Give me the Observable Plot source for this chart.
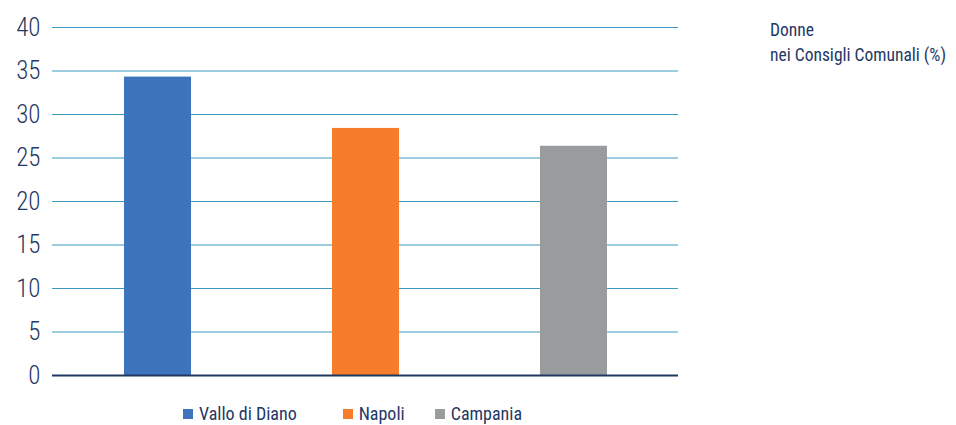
<!DOCTYPE html>
<html>
<head>
<meta charset="utf-8">
<script src="https://cdn.jsdelivr.net/npm/d3@7"></script>
<script src="https://cdn.jsdelivr.net/npm/@observablehq/plot@0.6"></script>
<style>
  html, body { margin: 0; padding: 0; background: #fff; }
  body { width: 956px; height: 425px; position: relative; overflow: hidden;
         font-family: "Roboto Condensed", "DejaVu Sans Condensed", "DejaVu Sans", sans-serif; font-stretch: condensed; color: #1f3864; }
  #chart { position: absolute; left: 0; top: 0; }
  #title { position: absolute; left: 770px; top: 18px; font-size: 17.5px; line-height: 25px; color: #1f3864; white-space: nowrap; }
  #legend { position: absolute; left: 183px; top: 403px; display: flex; font-size: 18px; color: #1f3864; white-space: nowrap; }
  .item { display: flex; align-items: center; gap: 6px; }
  .sw { width: 10px; height: 10px; display: inline-block; }
</style>
</head>
<body>
<div id="chart"></div>
<div id="title">Donne<br>nei Consigli Comunali (%)</div>
<div id="legend"></div>
<script>
const categories = ["Vallo di Diano", "Napoli", "Campania"];
const values = [34.3, 28.4, 26.35];
const colors = ["#3e74bb", "#f57d2c", "#999c9c"];
const yTicks = [0, 5, 10, 15, 20, 25, 30, 35, 40];

const data = categories.map((c, i) => ({category: c, value: values[i]}));

const plot = Plot.plot({
  width: 700,
  height: 395,
  marginLeft: 52,
  marginRight: 22,
  marginTop: 27,
  marginBottom: 20,
  style: {fontFamily: '"Roboto Condensed", "DejaVu Sans Condensed", "DejaVu Sans", sans-serif', fontStretch: "condensed", color: "#1f3864", background: "transparent", overflow: "visible"},
  x: {domain: categories, paddingInner: 0.68, paddingOuter: 0.34, axis: null},
  y: {domain: [0, 40], ticks: yTicks, label: null},
  color: {domain: categories, range: colors},
  marks: [
    Plot.ruleY(yTicks.filter(d => d > 0), {stroke: "#3d97bf", strokeWidth: 1.2}),
    Plot.barY(data, {x: "category", y: "value", fill: "category"}),
    Plot.ruleY([0], {stroke: "#1f3864", strokeWidth: 2.2}),
    Plot.axisY({ticks: yTicks, tickSize: 0, tickPadding: 12, fontSize: 25, fontWeight: 300, label: null, fill: "#1f3864"})
  ]
});
document.getElementById("chart").appendChild(plot);

const legend = document.getElementById("legend");
const legendGaps = [46, 30, 0];
categories.forEach((c, i) => {
  const item = document.createElement("div");
  item.className = "item";
  item.style.marginRight = legendGaps[i] + "px";
  const sw = document.createElement("span");
  sw.className = "sw";
  sw.style.background = colors[i];
  const t = document.createElement("span");
  t.textContent = c;
  item.appendChild(sw);
  item.appendChild(t);
  legend.appendChild(item);
});
</script>
</body>
</html>
